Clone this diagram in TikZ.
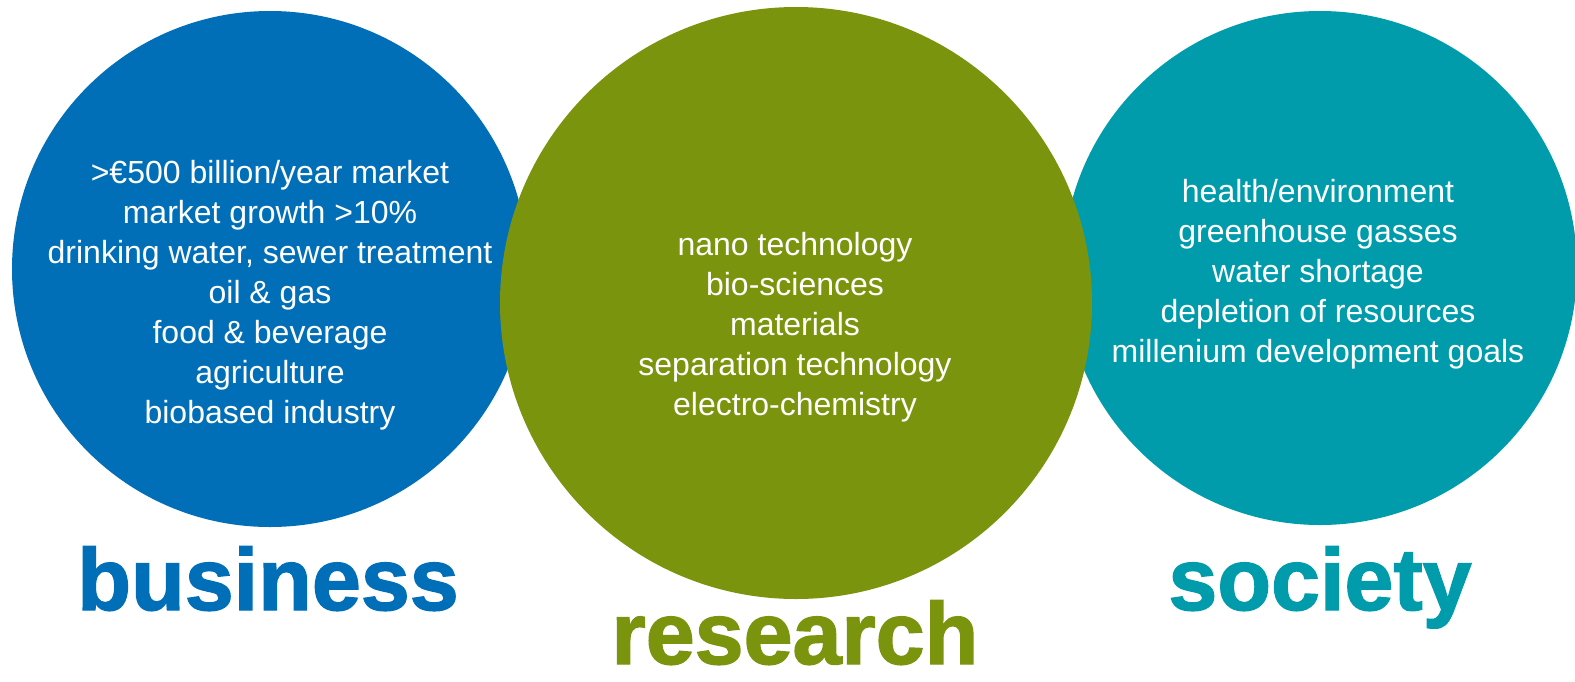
\documentclass[tikz,border=0pt]{standalone}
\usepackage{fontspec}
\setmainfont{Liberation Sans}
\newfontfamily\headfont[FakeBold=1.6]{Liberation Sans Bold}
\definecolor{bizblue}{RGB}{0,111,184}
\definecolor{resgreen}{RGB}{122,148,14}
\definecolor{socteal}{RGB}{0,156,172}
\tikzset{
  disc/.style={circle,inner sep=0pt},
  items/.style={align=center,text=white,inner sep=0pt,font=\fontsize{16}{20}\selectfont},
  title/.style={anchor=base,inner sep=0pt,text depth=0pt,font=\fontsize{44}{44}\headfont}
}
\begin{document}
\begin{tikzpicture}[x=0.5pt,y=-0.5pt]
  \useasboundingbox[fill=white] (0,0) rectangle (1575,681);
  % discs, green last so it lies over the other two
  \node[disc,fill=bizblue,minimum size=258pt] (bizdisc) at (270,269) {};
  \node[disc,fill=socteal,minimum size=257pt] (socdisc) at (1320,268) {};
  \node[disc,fill=resgreen,minimum size=296pt] (resdisc) at (796,303) {};

  % what each field is about
  \node[items] (bizitems) at (270,295) {>€500 billion/year market\\ market growth >10\%\\
    drinking water, sewer treatment\\ oil \& gas\\ food \& beverage\\ agriculture\\ biobased industry};
  \node[items] (resitems) at (795,327) {nano technology\\ bio-sciences\\ materials\\
    separation technology\\ electro-chemistry};
  \node[items] (socitems) at (1318,274) {health/environment\\ greenhouse gasses\\ water shortage\\
    depletion of resources\\ millenium development goals};

  % field names
  \node[title,text=bizblue] (biztitle) at (268,610) {business};
  \node[title,text=resgreen] (restitle) at (795,664) {research};
  \node[title,text=socteal] (soctitle) at (1320,610) {society};
\end{tikzpicture}
\end{document}
